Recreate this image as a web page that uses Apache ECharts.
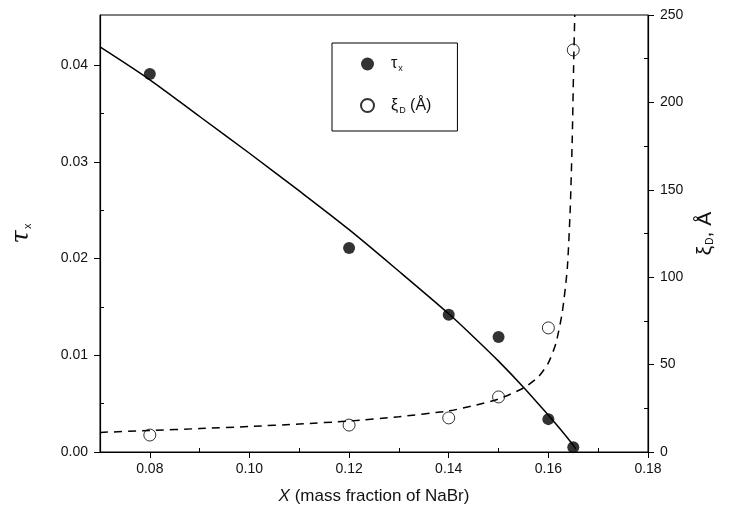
<!DOCTYPE html>
<html>
<head>
<meta charset="utf-8">
<script src="https://cdn.jsdelivr.net/npm/echarts@6/dist/echarts.min.js"></script>
<style>
  html, body { margin: 0; padding: 0; background: #fff; }
  #graphics { width: 729px; height: 516px; }
</style>
</head>
<body>
<div id="graphics"></div>
<script>
// measured points
var xPts = [0.08, 0.12, 0.14, 0.15, 0.16, 0.165];
var tauPts = [0.0391, 0.0211, 0.0142, 0.0119, 0.0034, 0.0005];
var xiPts = [9.7, 15.4, 19.5, 31.5, 71, 230];

// fitted curves
var tauFitX = [0.07, 0.08, 0.09, 0.10, 0.11, 0.12, 0.13, 0.14, 0.145, 0.15, 0.155, 0.16, 0.1625, 0.165, 0.1655];
var tauFitY = [0.0419, 0.0385, 0.0347, 0.0309, 0.0270, 0.0230, 0.0187, 0.0143, 0.0119, 0.0094, 0.0067, 0.0038, 0.0023, 0.0007, 0.0003];
var xiFitX = [0.07, 0.08, 0.09, 0.10, 0.11, 0.12, 0.13, 0.14, 0.145, 0.15, 0.155, 0.158, 0.16, 0.1615, 0.1628, 0.1638, 0.1644, 0.1648, 0.1651, 0.1653];
var xiFitY = [11.2, 12.3, 13.4, 14.6, 16.0, 17.7, 20.2, 23.5, 26.5, 30.3, 36.6, 43, 51, 62, 80, 105, 140, 180, 225, 250];

// ticks
var xMajor = [0.08, 0.10, 0.12, 0.14, 0.16, 0.18];
var xMinor = [0.09, 0.11, 0.13, 0.15, 0.17];
var tauMajor = [0, 0.01, 0.02, 0.03, 0.04];
var tauMinor = [0.005, 0.015, 0.025, 0.035];
var xiMajor = [0, 50, 100, 150, 200, 250];
var xiMinor = [25, 75, 125, 175, 225];

var font = 'Liberation Sans, Arial, sans-serif';
var ink = '#111';

function zip(a, b) {
    return a.map(function (v, i) { return [v, b[i]]; });
}

var myChart = echarts.init(document.getElementById('graphics'));

var lbl = { color: ink, fontFamily: font, fontSize: 14 };

option = {
    animation: false,
    grid: { left: 100, right: 81, top: 15, bottom: 64, show: true, borderColor: '#000', borderWidth: 1 },
    legend: {
        orient: 'vertical',
        left: 332,
        top: 43,
        padding: [13, 26, 16, 28],
        itemGap: 24,
        itemWidth: 13,
        itemHeight: 13,
        borderColor: '#000',
        borderWidth: 1,
        data: [{ name: 'τx', icon: 'circle' }, { name: 'ξD (Å)', icon: 'circle' }],
        formatter: function (name) {
            if (name === 'τx') return '{g|}{a|τ}{s|x}';
            return '{g|}{a|ξ}{s|D}{a| (Å)}';
        },
        textStyle: {
            color: ink,
            fontFamily: font,
            rich: {
                g: { width: 12 },
                a: { fontSize: 16, fontFamily: font, color: ink },
                s: { fontSize: 9, fontFamily: font, color: ink, padding: [10, 0, 0, 1] }
            }
        }
    },
    xAxis: [{
        type: 'value',
        min: 0.07, max: 0.18,
        name: '{i|X} (mass fraction of NaBr)',
        nameLocation: 'middle',
        nameGap: 36,
        nameTextStyle: {
            color: ink, fontFamily: font, fontSize: 17,
            rich: { i: { fontStyle: 'italic', fontSize: 17, fontFamily: font, color: ink } }
        },
        axisLine: { lineStyle: { color: '#000', width: 1.2 } },
        axisTick: { inside: false, length: 6, customValues: xMajor, lineStyle: { color: '#000' } },
        axisLabel: Object.assign({ customValues: xMajor, margin: 10, formatter: function (v) { return v.toFixed(2); } }, lbl),
        splitLine: { show: false }
    }, {
        type: 'value',
        min: 0.07, max: 0.18,
        position: 'bottom',
        axisLine: { show: false },
        axisTick: { inside: true, length: 4, customValues: xMinor, lineStyle: { color: '#000' } },
        axisLabel: { show: false },
        splitLine: { show: false }
    }],
    yAxis: [{
        type: 'value',
        min: 0, max: 0.0452,
        position: 'left',
        name: '{t|τ}{s|x}',
        nameLocation: 'middle',
        nameRotate: 90,
        nameGap: 66,
        nameTextStyle: {
            rich: {
                t: { fontSize: 24, fontFamily: 'DejaVu Serif, serif', fontStyle: 'italic', color: ink },
                s: { fontSize: 11, fontFamily: font, color: ink, padding: [12, 0, 0, 1] }
            }
        },
        axisLine: { show: true, lineStyle: { color: '#000', width: 1.2 } },
        axisTick: { show: true, inside: false, length: 6, customValues: tauMajor, lineStyle: { color: '#000' } },
        axisLabel: Object.assign({ customValues: tauMajor, margin: 12, formatter: function (v) { return v.toFixed(2); } }, lbl),
        splitLine: { show: false }
    }, {
        type: 'value',
        min: 0, max: 250,
        position: 'right',
        name: '{t|ξ}{s|D}{t|, Å}',
        nameLocation: 'middle',
        nameRotate: 90,
        nameGap: 44,
        nameTextStyle: {
            rich: {
                t: { fontSize: 21, fontFamily: font, color: ink },
                s: { fontSize: 10, fontFamily: font, color: ink, padding: [10, 0, 0, 1] }
            }
        },
        axisLine: { show: true, lineStyle: { color: '#000', width: 1.2 } },
        axisTick: { show: true, inside: false, length: 6, customValues: xiMajor, lineStyle: { color: '#000' } },
        axisLabel: Object.assign({ customValues: xiMajor, margin: 12 }, lbl),
        splitLine: { show: false }
    }, {
        type: 'value',
        min: 0, max: 0.0452,
        position: 'left',
        axisLine: { show: false },
        axisTick: { show: true, inside: true, length: 4, customValues: tauMinor, lineStyle: { color: '#000' } },
        axisLabel: { show: false },
        splitLine: { show: false }
    }, {
        type: 'value',
        min: 0, max: 250,
        position: 'right',
        axisLine: { show: false },
        axisTick: { show: true, inside: true, length: 4, customValues: xiMinor, lineStyle: { color: '#000' } },
        axisLabel: { show: false },
        splitLine: { show: false }
    }],
    series: [{
        name: 'tauFit',
        type: 'line',
        xAxisIndex: 0, yAxisIndex: 0,
        data: zip(tauFitX, tauFitY),
        showSymbol: false,
        smooth: 0.3,
        lineStyle: { color: '#000', width: 1.5 }
    }, {
        name: 'xiFit',
        type: 'line',
        xAxisIndex: 0, yAxisIndex: 1,
        data: zip(xiFitX, xiFitY),
        showSymbol: false,
        smooth: 0.2,
        lineStyle: { color: '#000', width: 1.5, type: [8, 6] }
    }, {
        name: 'τx',
        type: 'scatter',
        xAxisIndex: 0, yAxisIndex: 0,
        data: zip(xPts, tauPts),
        symbol: 'circle',
        symbolSize: 12,
        itemStyle: { color: '#000' }
    }, {
        name: 'ξD (Å)',
        type: 'scatter',
        xAxisIndex: 0, yAxisIndex: 1,
        data: zip(xPts, xiPts),
        symbol: 'circle',
        symbolSize: 12,
        itemStyle: { color: '#fff', borderColor: '#000', borderWidth: 1 }
    }]
};

myChart.setOption(option);
</script>
</body>
</html>
